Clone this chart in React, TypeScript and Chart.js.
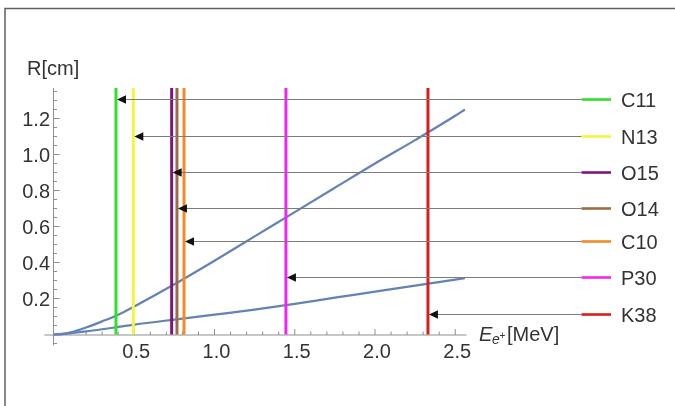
import React, { useEffect, useRef } from 'react';
import { Chart, registerables } from 'chart.js';

Chart.register(...registerables);

// ---- data ----
const isotopes = ['C11', 'N13', 'O15', 'O14', 'C10', 'P30', 'K38'];
const meanEnergies = [0.386, 0.494, 0.733, 0.766, 0.81, 1.445, 2.33];
const arrowLevels = [1.308, 1.104, 0.904, 0.703, 0.519, 0.319, 0.114];
const isotopeColors = ['#2fe02f', '#f5f53c', '#7e147e', '#9c6c44', '#f28a26', '#f026f0', '#d81d1d'];

const energyGrid = [0, 0.05, 0.1, 0.2, 0.3, 0.4, 0.5, 0.75, 1.0, 1.25, 1.5, 1.75, 2.0, 2.25, 2.5, 2.56];
const rangeUpper = [0, 0.003, 0.011, 0.039, 0.073, 0.11, 0.156, 0.279, 0.41, 0.545, 0.68, 0.815, 0.95, 1.08, 1.215, 1.25];
const rangeLower = [0, 0.002, 0.007, 0.017, 0.029, 0.042, 0.055, 0.083, 0.11, 0.138, 0.17, 0.205, 0.238, 0.272, 0.305, 0.313];

const xTickValues = [0.5, 1.0, 1.5, 2.0, 2.5];
const xTickLabels = ['0.5', '1.0', '1.5', '2.0', '2.5'];
const yTickValues = [0.2, 0.4, 0.6, 0.8, 1.0, 1.2];
const yTickLabels = ['0.2', '0.4', '0.6', '0.8', '1.0', '1.2'];

const X_MIN = -0.06;
const X_AXIS_END = 2.57;
const X_MAX = 3.807;
const Y_MIN = -0.06;
const Y_MAX = 1.37;

const FONT = '"Liberation Sans", Arial, sans-serif';
const CURVE_COLOR = '#6283b3';

const decorPlugin = {
  id: 'decor',
  beforeDatasetsDraw(chart: any) {
    const ctx = chart.ctx as CanvasRenderingContext2D;
    const xs = chart.scales.x;
    const ys = chart.scales.y;
    const x0 = xs.getPixelForValue(0);
    const y0 = ys.getPixelForValue(0);
    ctx.save();
    // frame
    ctx.strokeStyle = '#606060';
    ctx.lineWidth = 1.5;
    ctx.beginPath();
    ctx.moveTo(5, 406);
    ctx.lineTo(5, 8.5);
    ctx.lineTo(675, 8.5);
    ctx.stroke();

    // axes
    ctx.strokeStyle = '#8f8f8f';
    ctx.lineWidth = 1;
    ctx.beginPath();
    ctx.moveTo(xs.getPixelForValue(X_MIN), y0 + 0.5);
    ctx.lineTo(xs.getPixelForValue(X_AXIS_END), y0 + 0.5);
    ctx.moveTo(x0 - 0.5, ys.getPixelForValue(Y_MIN));
    ctx.lineTo(x0 - 0.5, ys.getPixelForValue(Y_MAX));
    ctx.stroke();

    // x ticks
    ctx.beginPath();
    for (let i = 1; i <= 25; i++) {
      const v = i / 10;
      const px = xs.getPixelForValue(v);
      const major = i % 5 === 0;
      ctx.moveTo(px, y0 + 0.5);
      ctx.lineTo(px, y0 + 0.5 - (major ? 6 : 3.5));
    }
    // y ticks
    for (let i = -1; i <= 27; i++) {
      if (i === 0) continue;
      const v = i / 20;
      const py = ys.getPixelForValue(v);
      const major = i % 4 === 0 && i > 0;
      ctx.moveTo(x0 - 0.5, py);
      ctx.lineTo(x0 - 0.5 + (major ? 6 : 3.5), py);
    }
    ctx.stroke();

    // tick labels
    ctx.fillStyle = '#333';
    ctx.font = `20px ${FONT}`;
    ctx.textBaseline = 'alphabetic';
    ctx.textAlign = 'center';
    xTickValues.forEach((v, i) => {
      ctx.fillText(xTickLabels[i], xs.getPixelForValue(v) + 2, y0 + 23);
    });
    ctx.textAlign = 'right';
    yTickValues.forEach((v, i) => {
      ctx.fillText(yTickLabels[i], x0 - 4, ys.getPixelForValue(v) + 7);
    });

    // axis labels
    ctx.textAlign = 'left';
    ctx.fillText('R[cm]', 27, 75);
    ctx.font = `italic 20px ${FONT}`;
    ctx.fillText('E', 479, 341);
    ctx.font = `italic 14px ${FONT}`;
    ctx.fillText('e', 492, 344);
    ctx.font = `10px ${FONT}`;
    ctx.fillText('+', 499.5, 339);
    ctx.font = `20px ${FONT}`;
    ctx.fillText('[MeV]', 507, 341);
    ctx.restore();
  },
  afterDatasetsDraw(chart: any) {
    const ctx = chart.ctx as CanvasRenderingContext2D;
    const xs = chart.scales.x;
    const ys = chart.scales.y;
    const legX0 = 581.5;
    const legX1 = 611;
    ctx.save();
    isotopes.forEach((name, i) => {
      const py = Math.round(ys.getPixelForValue(arrowLevels[i])) + 0.5;
      const tip = xs.getPixelForValue(meanEnergies[i]) + 1;
      // arrow shaft
      ctx.strokeStyle = '#7c7c7c';
      ctx.lineWidth = 1.2;
      ctx.beginPath();
      ctx.moveTo(legX0, py);
      ctx.lineTo(tip + 8, py);
      ctx.stroke();
      // arrow head
      ctx.fillStyle = '#111';
      ctx.beginPath();
      ctx.moveTo(tip, py);
      ctx.lineTo(tip + 9, py - 4.2);
      ctx.lineTo(tip + 9, py + 4.2);
      ctx.closePath();
      ctx.fill();
      // legend segment
      ctx.strokeStyle = isotopeColors[i];
      ctx.lineWidth = 2.6;
      ctx.beginPath();
      ctx.moveTo(legX0, py);
      ctx.lineTo(legX1, py);
      ctx.stroke();
      // legend label
      ctx.fillStyle = '#333';
      ctx.font = `20px ${FONT}`;
      ctx.textAlign = 'left';
      ctx.textBaseline = 'alphabetic';
      ctx.fillText(name, 621, py + 7);
    });
    ctx.restore();
  },
};

export default function App() {
  const canvasRef = useRef<HTMLCanvasElement | null>(null);

  useEffect(() => {
    const canvas = canvasRef.current;
    if (!canvas) return;

    const curveUpper = energyGrid.map((e, i) => ({ x: e, y: rangeUpper[i] }));
    const curveLower = energyGrid.map((e, i) => ({ x: e, y: rangeLower[i] }));

    const verticalSets = isotopes.map((name, i) => ({
      label: name,
      data: [
        { x: meanEnergies[i], y: 0 },
        { x: meanEnergies[i], y: Y_MAX },
      ],
      borderColor: isotopeColors[i],
      borderWidth: 3,
      showLine: true,
      pointRadius: 0,
      order: 1,
    }));

    const chart = new Chart(canvas, {
      type: 'scatter',
      data: {
        datasets: [
          {
            label: 'upper',
            data: curveUpper,
            borderColor: CURVE_COLOR,
            borderWidth: 2.2,
            showLine: true,
            pointRadius: 0,
            cubicInterpolationMode: 'monotone',
            order: 2,
          },
          {
            label: 'lower',
            data: curveLower,
            borderColor: CURVE_COLOR,
            borderWidth: 2.2,
            showLine: true,
            pointRadius: 0,
            cubicInterpolationMode: 'monotone',
            order: 2,
          },
          ...verticalSets,
        ],
      },
      options: {
        responsive: false,
        animation: false,
        devicePixelRatio: 1,
        layout: {
          padding: { left: 44.4, right: 10, top: 87.9, bottom: 60.7 },
        },
        plugins: {
          legend: { display: false },
          tooltip: { enabled: false },
        },
        scales: {
          x: { type: 'linear', min: X_MIN, max: X_MAX, display: false },
          y: { type: 'linear', min: Y_MIN, max: Y_MAX, display: false },
        },
      },
      plugins: [decorPlugin],
    } as any);

    return () => chart.destroy();
  }, []);

  return (
    <div style={{ position: 'absolute', left: 0, top: 0, width: 675, height: 406, background: '#fff' }}>
      <canvas ref={canvasRef} width={675} height={406} />
    </div>
  );
}
